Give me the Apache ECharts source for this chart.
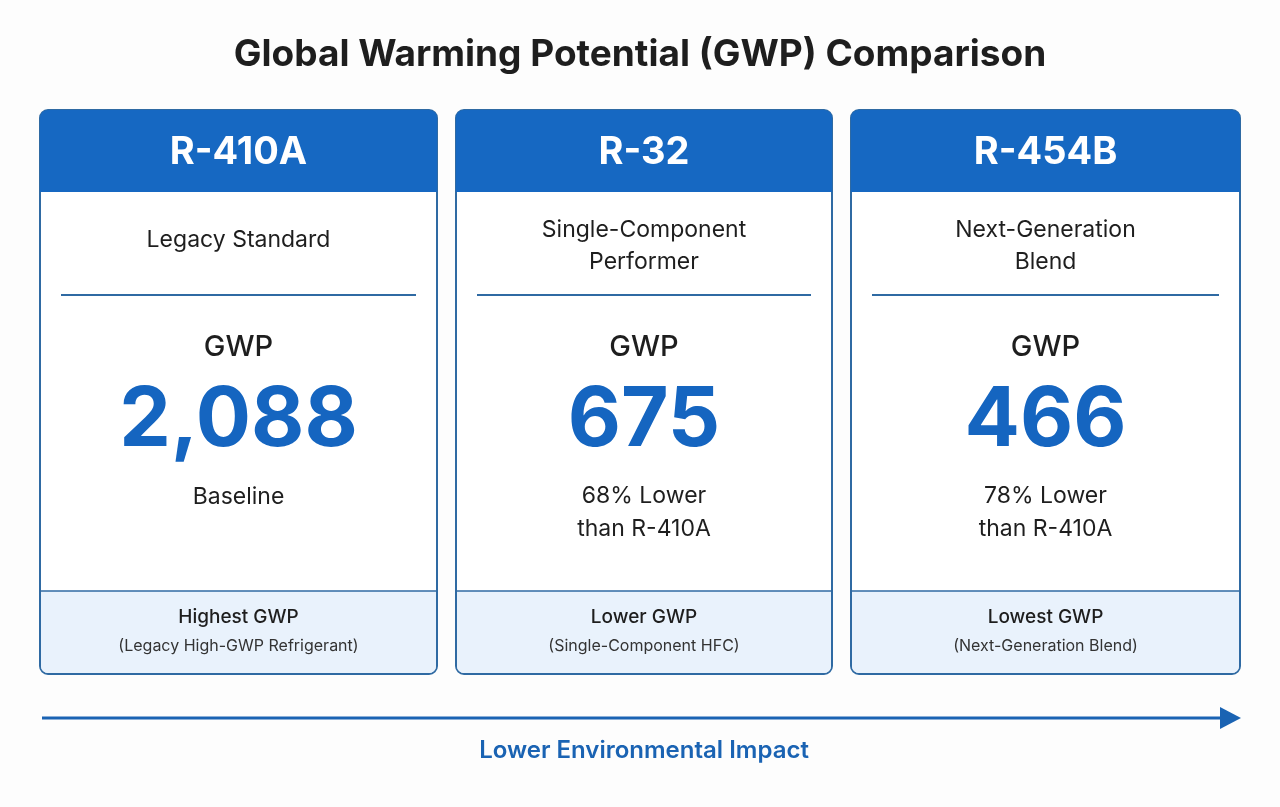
<!DOCTYPE html>
<html><head><meta charset="utf-8">
<script src="https://cdn.jsdelivr.net/npm/echarts@6/dist/echarts.min.js"></script>
<style>html,body{margin:0;padding:0;background:#fdfdfd}#c{width:1280px;height:807px}</style>
</head><body><div id="c"></div>
<script>
const titleText = 'Global Warming Potential (GWP) Comparison';
const names = ['R-410A', 'R-32', 'R-454B'];
const subtitles = ['Legacy Standard', 'Single-Component\nPerformer', 'Next-Generation\nBlend'];
const gwpValues = [2088, 675, 466];
const captions = ['Baseline', '68% Lower\nthan R-410A', '78% Lower\nthan R-410A'];
const footTitles = ['Highest GWP', 'Lower GWP', 'Lowest GWP'];
const footSubs = ['(Legacy High-GWP Refrigerant)', '(Single-Component HFC)', '(Next-Generation Blend)'];
const arrowLabel = 'Lower Environmental Impact';

(function(){
const cardX = [40, 456, 851];
const cardW = [397, 376, 389];
const cardTop = 110, cardBottom = 674, headH = 82, footTop = 591;
const blue = '#1565c0', border = '#2f6aa3';
const F = 'Inter, "Noto Sans", sans-serif';
const g = [];
g.push({type:'text', style:{text:titleText, x:640, y:55, align:'center', verticalAlign:'middle', font:'bold 37px '+F, fill:'#1e1e1e'}});
names.forEach((n,i)=>{
  const x=cardX[i], w=cardW[i], cx=x+w/2;
  g.push({type:'rect', shape:{x, y:cardTop, width:w, height:cardBottom-cardTop, r:8}, style:{fill:'#fff', stroke:border, lineWidth:2}});
  g.push({type:'rect', shape:{x:x+1, y:footTop, width:w-2, height:cardBottom-footTop-1, r:[0,0,7,7]}, style:{fill:'#e9f2fc'}});
  g.push({type:'line', shape:{x1:x, y1:footTop, x2:x+w, y2:footTop}, style:{stroke:border, lineWidth:1.5}});
  g.push({type:'rect', shape:{x, y:cardTop, width:w, height:headH, r:[8,8,0,0]}, style:{fill:'#1668c2'}});
  g.push({type:'text', style:{text:n, x:cx, y:cardTop+headH/2+2, align:'center', verticalAlign:'middle', font:'bold 38px '+F, fill:'#fff'}});
  const two = subtitles[i].includes('\n');
  g.push({type:'text', style:{text:subtitles[i], x:cx, y:two?246:240, align:'center', verticalAlign:'middle', font:'23px '+F, fill:'#1e1e1e', lineHeight:32}});
  g.push({type:'line', shape:{x1:x+21, y1:295, x2:x+w-21, y2:295}, style:{stroke:border, lineWidth:2}});
  g.push({type:'text', style:{text:'GWP', x:cx, y:347, align:'center', verticalAlign:'middle', font:'500 29px '+F, fill:'#1e1e1e'}});
  g.push({type:'text', style:{text:gwpValues[i].toLocaleString('en-US'), x:cx, y:421, align:'center', verticalAlign:'middle', font:'bold 82px '+F, fill:blue}});
  const c2 = captions[i].includes('\n');
  g.push({type:'text', style:{text:captions[i], x:cx, y:c2?513:497, align:'center', verticalAlign:'middle', font:'23px '+F, fill:'#1e1e1e', lineHeight:33}});
  g.push({type:'text', style:{text:footTitles[i], x:cx, y:617, align:'center', verticalAlign:'middle', font:'500 19px '+F, fill:'#1e1e1e'}});
  g.push({type:'text', style:{text:footSubs[i], x:cx, y:646, align:'center', verticalAlign:'middle', font:'16px '+F, fill:'#333'}});
});
g.push({type:'line', shape:{x1:42, y1:718, x2:1225, y2:718}, style:{stroke:'#1a63b3', lineWidth:3}});
g.push({type:'polygon', shape:{points:[[1220,707],[1241,718],[1220,729]]}, style:{fill:'#1a63b3'}});
g.push({type:'text', style:{text:arrowLabel, x:644, y:751, align:'center', verticalAlign:'middle', font:'600 24px '+F, fill:'#1a63b3'}});
const chart = echarts.init(document.getElementById('c'));
chart.setOption({backgroundColor:'#fdfdfd', graphic:g});
})();
</script></body></html>
